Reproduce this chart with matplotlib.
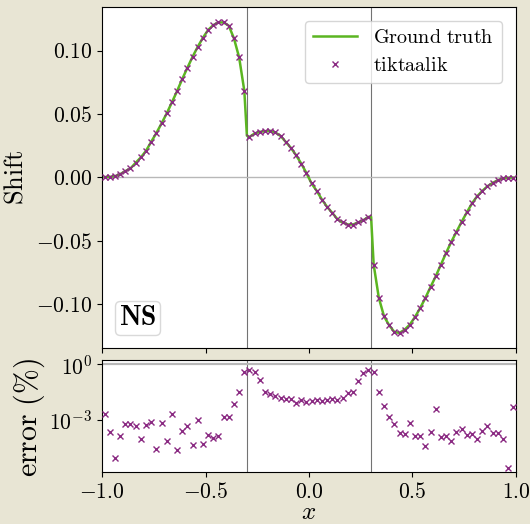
import numpy as np
import matplotlib
matplotlib.use("Agg")
import matplotlib.pyplot as plt
from matplotlib.offsetbox import AnchoredText
from matplotlib.ticker import FixedLocator, NullLocator, MultipleLocator

plt.rcParams['font.family'] = 'serif'
plt.rcParams['font.serif'] = ['cmr10', 'DejaVu Serif']
plt.rcParams['mathtext.fontset'] = 'cm'
plt.rcParams['axes.formatter.use_mathtext'] = True
plt.rcParams['axes.unicode_minus'] = True

# ---------------- data ----------------
# cell-centre sample positions (80 cells on [-1, 1])
x_cells = np.linspace(-0.9875, 0.9875, 80)

# predicted shift (tiktaalik)
shift_pred = [
    0.0003, 0.0005, 0.0010, 0.0026, 0.0050, 0.0071, 0.0116, 0.0158, 0.0210, 0.0281,
    0.0350, 0.0426, 0.0505, 0.0592, 0.0681, 0.0776, 0.0865, 0.0952, 0.1031, 0.1102,
    0.1163, 0.1202, 0.1223, 0.1223, 0.1197, 0.1097, 0.0947, 0.0684,
    0.0320, 0.0347, 0.0360, 0.0365, 0.0368, 0.0355, 0.0328, 0.0281, 0.0234, 0.0176,
    0.0110, 0.0035, -0.0047, -0.0106, -0.0174, -0.0232, -0.0279, -0.0329, -0.0355,
    -0.0371, -0.0371, -0.0355, -0.0337, -0.0311,
    -0.0687, -0.0950, -0.1095, -0.1166, -0.1219, -0.1226, -0.1200, -0.1160, -0.1100,
    -0.1029, -0.0950, -0.0863, -0.0779, -0.0687, -0.0595, -0.0508, -0.0429, -0.0350,
    -0.0276, -0.0205, -0.0148, -0.0106, -0.0069, -0.0043, -0.0021, -0.0008, -0.0002,
    -0.0001,
]

# ground truth: same samples plus the values at the two interfaces
interfaces = [-0.3, 0.3]
gt_interface_values = [0.0330, -0.0310]

# relative error in percent (log10 of value)
err_log10 = [
    -2.67, -3.68, -5.10, -3.87, -3.24, -3.24, -3.33, -4.04, -3.30, -3.12,
    -4.58, -3.17, -4.14, -2.70, -4.68, -3.60, -3.37, -4.36, -3.01, -4.34,
    -3.86, -3.98, -3.87, -2.85, -2.85, -2.16, -1.48, -0.41,
    -0.32, -0.43, -0.86, -1.50, -1.59, -1.73, -1.80, -1.86, -1.89, -2.07,
    -1.95, -2.04, -2.00, -1.95, -1.98, -1.95, -1.89, -1.95, -1.82, -1.55,
    -1.50, -0.90, -0.47, -0.32,
    -0.43, -1.48, -2.27, -2.85, -3.26, -3.71, -3.78, -3.17, -3.89, -3.87,
    -4.43, -3.69, -2.45, -3.93, -3.89, -4.16, -3.68, -3.53, -3.86, -3.78,
    -4.07, -3.60, -3.35, -3.75, -3.71, -4.07, -5.61, -2.34,
]

xticks = [-1.0, -0.5, 0.0, 0.5, 1.0]

# ---------------- figure ----------------
GREEN = '#5bb521'
PURPLE = '#8a2a82'
BG = '#e8e5d4'

fig = plt.figure(figsize=(5.3, 5.24), dpi=100, facecolor=BG)
ax1 = fig.add_axes([0.1925, 0.3359, 0.781, 0.6513])
ax2 = fig.add_axes([0.1925, 0.0983, 0.781, 0.2156])

gt_x = list(x_cells[:28]) + [interfaces[0]] + list(x_cells[28:52]) + [interfaces[1]] + list(x_cells[52:])
gt_y = list(shift_pred[:28]) + [gt_interface_values[0]] + list(shift_pred[28:52]) + [gt_interface_values[1]] + list(shift_pred[52:])

for xv in interfaces:
    ax1.axvline(xv, color='0.45', lw=0.8, zorder=1)
    ax2.axvline(xv, color='0.45', lw=0.8, zorder=1)
ax1.axhline(0.0, color='0.72', lw=1.0, zorder=1)
ax2.axhline(1.0, color='0.72', lw=1.6, zorder=1)

ax1.plot(gt_x, gt_y, color=GREEN, lw=1.8, label=r'$\mathrm{Ground\ truth}$', zorder=2)
ax1.plot(x_cells, shift_pred, ls='none', marker='x', ms=5, mew=1.0, color=PURPLE,
         label=r'$\mathrm{tiktaalik}$', zorder=3)

err = 10.0 ** np.array(err_log10)
ax2.plot(x_cells, err, ls='none', marker='x', ms=5, mew=1.0, color=PURPLE, zorder=3)
ax2.set_yscale('log')

for ax in (ax1, ax2):
    ax.set_xlim(-1.0, 1.0)
    ax.xaxis.set_major_locator(FixedLocator(xticks))
    ax.tick_params(labelsize=15.5)

ax1.set_ylim(-0.1345, 0.1347)
ax1.yaxis.set_major_locator(MultipleLocator(0.05))
ax1.tick_params(labelbottom=False)
ax1.set_ylabel(r'$\mathrm{Shift}$', fontsize=19)
ax1.yaxis.set_label_coords(-0.179, 0.5)

ax2.set_ylim(10 ** -5.88, 10 ** 0.27)
ax2.yaxis.set_major_locator(FixedLocator([1e-3, 1e0]))
ax2.yaxis.set_minor_locator(NullLocator())
ax2.set_ylabel(r'$\mathrm{error\ (\%)}$', fontsize=21.5)
ax2.yaxis.set_label_coords(-0.133, 0.49)
ax2.set_xlabel(r'$x$', fontsize=18, labelpad=0)

leg = ax1.legend(loc='upper right', fontsize=14.5, fancybox=True, framealpha=0.8,
                 handlelength=2.2, borderpad=0.4, borderaxespad=0.7)

at = AnchoredText(r'$\mathbf{NS}$', loc='lower left', prop=dict(size=20),
                  frameon=True, pad=0.15, borderpad=0.45)
at.patch.set_boxstyle('round,pad=0.,rounding_size=0.2')
at.patch.set_edgecolor('0.85')
ax1.add_artist(at)

fig.savefig('out.png', dpi=100, facecolor=BG)
